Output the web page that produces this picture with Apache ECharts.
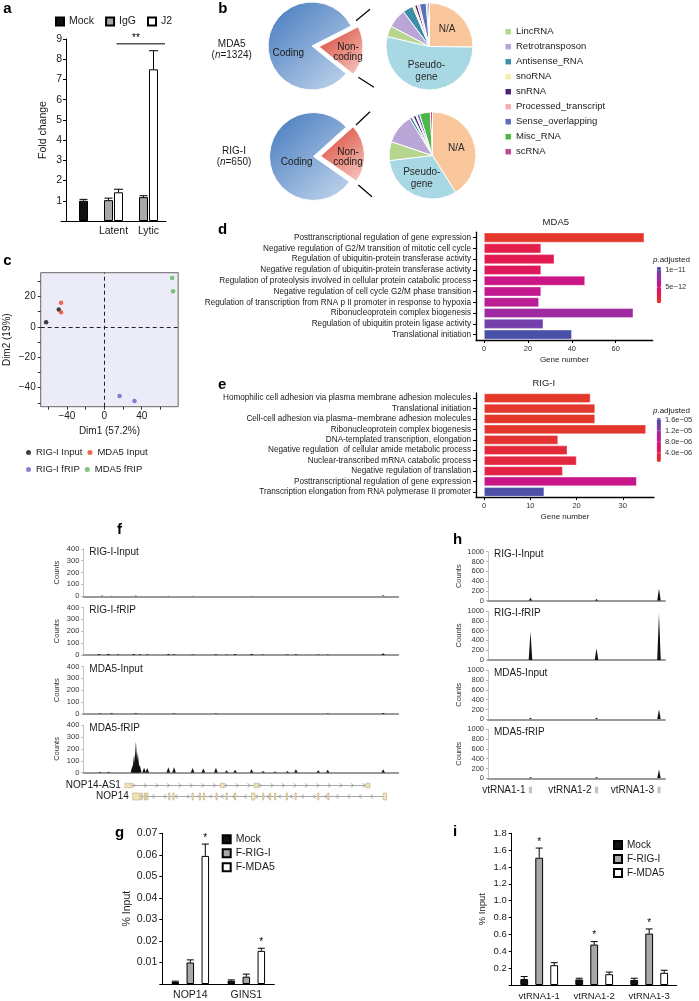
<!DOCTYPE html>
<html>
<head>
<meta charset="utf-8">
<title>RIG-I / MDA5 fRIP figure</title>
<script src="https://cdn.jsdelivr.net/npm/echarts@6.0.0/dist/echarts.min.js"></script>
<style>
  html, body { margin: 0; padding: 0; background: #fff; }
  #chart { width: 699px; height: 1001px; }
</style>
</head>
<body>
<div id="chart"></div>
<script>
// ---------- a: fold change ----------
const aGroups = ['', 'Latent', 'Lytic'];
const aMock = [1.0, '-', '-'];
const aMockErr = [0.07, 0, 0];
const aIgG = ['-', 1.03, 1.18];
const aIgGErr = [0, 0.1, 0.07];
const aJ2 = ['-', 1.42, 7.5];
const aJ2Err = [0, 0.15, 0.92];
const aSignif = [1, 2, 8.76];   // from group, to group, height

// ---------- b: RNA classes ----------
const codingNames = ['Non-coding', 'Coding'];
const mda5Coding = [18.3, 81.7];
const rigiCoding = [21.4, 78.6];
const rnaTypes = ['N/A', 'Pseudogene', 'LincRNA', 'Retrotransposon', 'Antisense_RNA', 'snoRNA',
  'snRNA', 'Processed_transcript', 'Sense_overlapping', 'Misc_RNA', 'scRNA'];
const mda5Types = [25, 53, 4, 7, 3.8, 0.8, 1, 0.8, 2.5, 0.6, 0.6];
const rigiTypes = [41, 32, 7, 11, 1, 0.5, 1, 0.5, 1, 4, 0.8];

// ---------- c: PCA ----------
const pcaRigInput = [[-62.2, 3], [-48.7, 11.3]];
const pcaMdaInput = [[-46.2, 15.7], [-46.2, 9.6]];
const pcaRigFrip = [[16.3, -45.4], [32.3, -48.7]];
const pcaMdaFrip = [[72.5, 32], [73.5, 23.3]];

// ---------- d / e: GO terms ----------
const dTerms = [
  'Posttranscriptional regulation of gene expression',
  'Negative regulation of G2/M transition of mitotic cell cycle',
  'Regulation of ubiquitin-protein transferase activity',
  'Negative regulation of ubiquitin-protein transferase activity',
  'Regulation of proteolysis involved in cellular protein catabolic process',
  'Negative regulation of cell cycle G2/M phase transition',
  'Regulation of transcription from RNA p II promoter in response to hypoxia',
  'Ribonucleoprotein complex biogenesis',
  'Regulation of ubiquitin protein ligase activity',
  'Translational initiation'
];
const dCounts = [73, 26, 32, 26, 46, 26, 25, 68, 27, 40];
const dPadj = [4e-13, 2.6e-12, 3.0e-12, 3.6e-12, 5.4e-12, 5.9e-12, 6.2e-12, 7.4e-12, 9.2e-12, 1.08e-11];
const dBarTicks = [1e-11, 5e-12];
const dBarLabels = ['1e\u221211', '5e\u221212'];

const eTerms = [
  'Homophilic cell adhesion via plasma membrane adhesion molecules',
  'Translational initiation',
  'Cell-cell adhesion via plasma\u2212membrane adhesion molecules',
  'Ribonucleoprotein complex biogenesis',
  'DNA-templated transcription, elongation',
  'Negative regulation  of cellular amide metabolic process',
  'Nuclear-transcribed mRNA catabolic process',
  'Negative regulation of translation',
  'Posttranscriptional regulation of gene expression',
  'Transcription elongation from RNA polymerase II promoter'
];
const eCounts = [23, 24, 24, 35, 16, 18, 20, 17, 33, 13];
const ePadj = [8e-7, 9e-7, 9e-7, 1.0e-6, 1.6e-6, 2.6e-6, 3.0e-6, 3.6e-6, 8.6e-6, 1.62e-5];
const eBarTicks = [1.6e-5, 1.2e-5, 8e-6, 4e-6];
const eBarLabels = ['1.6e\u221205', '1.2e\u221205', '8.0e\u221206', '4.0e\u221206'];

// ---------- f: NOP14 locus coverage (position 0-100 along locus, counts) ----------
const trackNames = ['RIG-I-Input', 'RIG-I-fRIP', 'MDA5-Input', 'MDA5-fRIP'];
const nopRigInput = [[6, 6], [9, 5], [16.7, 6], [27, 5], [34.7, 4], [53.4, 5], [95.2, 8]];
const nopRigFrip = [[5, 8], [8, 10], [11, 6], [16, 8], [18, 7], [20.3, 6], [27, 8], [28.8, 6], [34.7, 5],
  [42.1, 6], [45.5, 5], [48.2, 8], [53.4, 10], [57.1, 4], [64.8, 5], [67.5, 6], [74.6, 5], [77.6, 5], [95.2, 14]];
const nopMdaInput = [[5.3, 5], [9, 6], [16.7, 6], [28.8, 4], [42.1, 5], [77.6, 4], [95.2, 8]];
const nopMdaFrip = [[5.3, 8], [8, 9], [15.6, 60], [16.1, 150], [16.7, 265], [17.3, 170], [17.9, 70],
  [19.3, 42], [20.3, 40], [27, 45], [28.8, 45], [34.7, 40], [38.1, 35], [42.1, 42], [45.5, 20], [48.2, 25],
  [53.4, 30], [57.1, 14], [60.9, 10], [64.8, 14], [67.5, 30], [74.6, 20], [77.6, 25], [95.2, 30]];
const nopGenes = ['NOP14-AS1', 'NOP14'];
const nopGeneSpan = [[13.2, 91], [15.7, 96.3]];
const nopGeneStrand = [1, -1];
const nopExons = [
  [[13.2, 15.4], [43.6, 44.7], [54.2, 55.6], [89.7, 91]],
  [[15.7, 18], [18.3, 18.7], [19.4, 19.8], [20.1, 20.5], [27.1, 27.5], [28.4, 28.8], [34.5, 34.9], [36.8, 37.2],
   [38.1, 38.5], [42.1, 42.5], [45.3, 45.7], [48, 48.4], [53.4, 54.5], [56.9, 57.3], [59.1, 59.5], [60.7, 61.1],
   [64.4, 64.8], [67.2, 67.6], [74.4, 74.8], [77.6, 78], [95.2, 96.3]]
];

// ---------- h: vault RNA locus coverage ----------
const vtNames = ['vtRNA1-1', 'vtRNA1-2', 'vtRNA1-3'];
const vtPos = [24, 61.3, 96.6];
const vtRigInput = [60, 35, 250];
const vtRigFrip = [580, 240, 950];
const vtMdaInput = [30, 30, 200];
const vtMdaFrip = [25, 25, 180];

// ---------- g: % input ----------
const gGenes = ['NOP14', 'GINS1'];
const gMock = [0.001, 0.0015];
const gMockErr = [0.0003, 0.0004];
const gRig = [0.010, 0.0034];
const gRigErr = [0.0012, 0.0012];
const gMda = [0.0595, 0.0154];
const gMdaErr = [0.0055, 0.0012];
const gMdaStar = [1, 1];

// ---------- i: % input ----------
const iMock = [0.07, 0.065, 0.06];
const iMockErr = [0.03, 0.015, 0.02];
const iRig = [1.51, 0.48, 0.61];
const iRigErr = [0.115, 0.035, 0.055];
const iRigStar = [1, 1, 1];
const iMda = [0.235, 0.128, 0.145];
const iMdaErr = [0.03, 0.025, 0.03];

// =================================================================
const chart = echarts.init(document.getElementById('chart'), null, {renderer: 'canvas'});
const FONT = '"Liberation Sans", Arial, Helvetica, sans-serif';
const INK = '#1a1a1a';
const rnaColors = ['#f9c79b', '#a8d8e3', '#b6d58e', '#b9a6d7', '#3b8ea6', '#f2eea8',
  '#4a2470', '#f3b2b1', '#5a6fbd', '#4db848', '#c04a9b'];
const goRamp = ['#e3382a', '#e31a50', '#c8168a', '#8d34ad', '#4651a8'];

const grids = [], xAxes = [], yAxes = [], series = [], graphics = [];

function addPanel(grid, xa, ya) {
  grids.push(grid);
  const i = grids.length - 1;
  xAxes.push(Object.assign({gridIndex: i}, xa));
  yAxes.push(Object.assign({gridIndex: i}, ya));
  return i;
}
function txt(x, y, text, size, extra) {
  return {type: 'text', x, y, z: 100, silent: true,
    style: Object.assign({text, fontSize: size, fontFamily: FONT, fill: INK, align: 'left', verticalAlign: 'middle'}, extra || {})};
}
function seg(x1, y1, x2, y2, w, color) {
  return {type: 'line', z: 100, silent: true, shape: {x1, y1, x2, y2}, style: {stroke: color || '#000', lineWidth: w || 1}};
}
const blackLine = {show: true, onZero: false, lineStyle: {color: '#000', width: 1}};
const noSplit = {show: false};
const plain = v => String(v);

function errorBars(ax, means, errs, stars, offset, cap) {
  const data = [];
  means.forEach((m, i) => { if (m !== '-') data.push([i, m, errs[i], stars ? stars[i] : 0]); });
  return {
    type: 'custom', xAxisIndex: ax, yAxisIndex: ax, silent: true, z: 3, data,
    renderItem(params, api) {
      const base = api.coord([api.value(0), api.value(1)]);
      const top = api.coord([api.value(0), api.value(1) + api.value(2)]);
      const x = base[0] + offset;
      const kids = [
        {type: 'line', shape: {x1: x, y1: base[1], x2: x, y2: top[1]}, style: {stroke: '#000', lineWidth: 1}},
        {type: 'line', shape: {x1: x - cap, y1: top[1], x2: x + cap, y2: top[1]}, style: {stroke: '#000', lineWidth: 1}}
      ];
      if (api.value(3)) {
        kids.push({type: 'text', x, y: top[1] - 1,
          style: {text: '*', fontSize: 10, fontFamily: FONT, fill: '#000', align: 'center', verticalAlign: 'bottom'}});
      }
      return {type: 'group', children: kids};
    }
  };
}
function peakSeries(ax, peaks, halfW) {
  return {
    type: 'custom', xAxisIndex: ax, yAxisIndex: ax, silent: true, clip: true, data: peaks,
    renderItem(params, api) {
      const x = api.value(0), h = api.value(1);
      const l = api.coord([x - halfW, 0]), t = api.coord([x, h]), r = api.coord([x + halfW, 0]);
      return {type: 'polygon', shape: {points: [l, t, r]}, style: {fill: '#111'}};
    }
  };
}

// ---------------- panel a ----------------
const pA = addPanel({left: 61, top: 39, width: 105, height: 182},
  {type: 'category', data: aGroups, axisLine: blackLine, axisTick: {show: false},
   axisLabel: {fontSize: 10.5, color: INK, margin: 5, interval: 0}},
  {type: 'value', min: 0, max: 9, interval: 1, offset: -5, axisLine: blackLine,
   axisTick: {show: true, length: 3, lineStyle: {color: '#000'}}, splitLine: noSplit,
   axisLabel: {fontSize: 10.5, color: INK, margin: 4, formatter: v => (v === 0 ? '' : v)},
   name: 'Fold change', nameLocation: 'middle', nameGap: 17, nameTextStyle: {fontSize: 10.5, color: INK}});
const barA = {type: 'bar', xAxisIndex: pA, yAxisIndex: pA, barWidth: 9, barGap: '11%', silent: true};
series.push(Object.assign({name: 'IgG', stack: 'aL', data: aIgG,
  itemStyle: {color: '#a8a8a8', borderColor: '#000', borderWidth: 1}}, barA));
series.push(Object.assign({name: 'Mock', stack: 'aR', data: aMock,
  itemStyle: {color: '#111', borderColor: '#000', borderWidth: 1}}, barA));
series.push(Object.assign({name: 'J2', stack: 'aR', data: aJ2,
  itemStyle: {color: '#fff', borderColor: '#000', borderWidth: 1}}, barA));
series.push(errorBars(pA, aIgG, aIgGErr, null, -5, 4));
series.push(errorBars(pA, aMock, aMockErr, null, 5, 4));
series.push(errorBars(pA, aJ2, aJ2Err, null, 5, 4.5));
series.push({type: 'custom', xAxisIndex: pA, yAxisIndex: pA, silent: true, data: [aSignif],
  renderItem(params, api) {
    const a = api.coord([api.value(0), api.value(2)]);
    const b = api.coord([api.value(1), api.value(2)]);
    return {type: 'group', children: [
      {type: 'line', shape: {x1: a[0] + 3, y1: a[1], x2: b[0] + 16.5, y2: a[1]}, style: {stroke: '#000', lineWidth: 1}},
      {type: 'text', x: (a[0] + b[0]) / 2 + 5, y: a[1] - 1,
       style: {text: '**', fontSize: 10, fontFamily: FONT, fill: '#000', align: 'center', verticalAlign: 'bottom'}}
    ]};
  }});

// ---------------- panel b ----------------
function bigPie(center, values, startAngle) {
  return {
    type: 'pie', center, radius: [0, 44], startAngle, silent: true, selectedMode: 'single', selectedOffset: 7,
    avoidLabelOverlap: false, label: {show: false}, labelLine: {show: false}, emphasis: {disabled: true},
    select: {itemStyle: {borderColor: '#fff', borderWidth: 1}},
    data: [
      {name: codingNames[0], value: values[0], selected: true,
       itemStyle: {borderColor: '#fff', borderWidth: 1, color: new echarts.graphic.LinearGradient(0, 0, 1, 1,
         [{offset: 0, color: '#d6402f'}, {offset: 1, color: '#f8cdc6'}])}},
      {name: codingNames[1], value: values[1],
       itemStyle: {borderColor: '#fff', borderWidth: 1, color: new echarts.graphic.LinearGradient(0, 0, 1, 1,
         [{offset: 0, color: '#4278bd'}, {offset: 1, color: '#c6d8ee'}])}}
    ]
  };
}
function typePie(center, values) {
  return {
    type: 'pie', center, radius: [0, 43.5], startAngle: 90, silent: true, avoidLabelOverlap: false,
    emphasis: {disabled: true}, labelLine: {show: false},
    label: {show: true, position: 'inside', fontSize: 10, fontFamily: FONT, color: '#2a2a2a', lineHeight: 12,
      formatter: p => (p.name === 'N/A' ? 'N/A' : p.name === 'Pseudogene' ? 'Pseudo-\ngene' : '')},
    data: rnaTypes.map((n, i) => ({name: n, value: values[i],
      itemStyle: {color: rnaColors[i], borderColor: '#fff', borderWidth: 1}}))
  };
}
series.push(bigPie([312, 46], mda5Coding, 27));
series.push(bigPie([313.5, 156.5], rigiCoding, 42));
series.push(typePie([429.5, 46.5], mda5Types));
series.push(typePie([432.5, 155.5], rigiTypes));

graphics.push(txt(231.7, 50, 'MDA5\n({i|n}=1324)', 10, {align: 'center', lineHeight: 11,
  rich: {i: {fontStyle: 'italic', fontSize: 10, fontFamily: FONT}}}));
graphics.push(txt(234, 157, 'RIG-I\n({i|n}=650)', 10, {align: 'center', lineHeight: 11,
  rich: {i: {fontStyle: 'italic', fontSize: 10, fontFamily: FONT}}}));
graphics.push(txt(288.3, 53.3, 'Coding', 10, {align: 'center'}));
graphics.push(txt(348, 52, 'Non-\ncoding', 10, {align: 'center', lineHeight: 10.5}));
graphics.push(txt(296.7, 162.3, 'Coding', 10, {align: 'center'}));
graphics.push(txt(348, 157, 'Non-\ncoding', 10, {align: 'center', lineHeight: 10.5}));
graphics.push(seg(356, 20.7, 370, 9.3, 1.2), seg(358.3, 77.3, 374, 87.3, 1.2));
graphics.push(seg(356, 125, 370, 111.7, 1.2), seg(358.3, 185, 372, 196.7, 1.2));

// ---------------- panel c ----------------
const minus = v => String(v).replace('-', '\u2212');
const pC = addPanel({left: 40.7, top: 272.7, width: 137.5, height: 134, show: true,
    backgroundColor: '#ececf8', borderColor: '#444', borderWidth: 0.8},
  {type: 'value', min: -68, max: 79, axisLine: {show: false, onZero: false}, splitLine: noSplit,
   axisTick: {show: true, length: 3, customValues: [-60, -40, -20, 0, 20, 40, 60], lineStyle: {color: '#333'}},
   axisLabel: {customValues: [-40, 0, 40], fontSize: 10, color: INK, margin: 5, formatter: minus},
   name: 'Dim1 (57.2%)', nameLocation: 'middle', nameGap: 20, nameTextStyle: {fontSize: 10, color: INK}},
  {type: 'value', min: -52.5, max: 35.5, axisLine: {show: false, onZero: false}, splitLine: noSplit,
   axisTick: {show: true, length: 3, customValues: [-50, -40, -30, -20, -10, 0, 10, 20, 30], lineStyle: {color: '#333'}},
   axisLabel: {customValues: [-40, -20, 0, 20], fontSize: 10, color: INK, margin: 5, formatter: minus},
   name: 'Dim2 (19%)', nameLocation: 'middle', nameGap: 28, nameTextStyle: {fontSize: 10, color: INK}});
const dotC = {type: 'scatter', xAxisIndex: pC, yAxisIndex: pC, symbolSize: 4.5, silent: true, z: 4};
series.push(Object.assign({name: 'RIG-I Input', data: pcaRigInput, itemStyle: {color: '#111'},
  markLine: {silent: true, symbol: 'none', label: {show: false}, animation: false,
    lineStyle: {type: [4, 3], color: '#222', width: 1}, data: [{xAxis: 0}, {yAxis: 0}]}}, dotC));
series.push(Object.assign({name: 'MDA5 Input', data: pcaMdaInput, itemStyle: {color: '#e8432b'}}, dotC));
series.push(Object.assign({name: 'RIG-I fRIP', data: pcaRigFrip, itemStyle: {color: '#6a5fc8'}}, dotC));
series.push(Object.assign({name: 'MDA5 fRIP', data: pcaMdaFrip, itemStyle: {color: '#5cb85a'}}, dotC));

// ---------------- panels d / e ----------------
function goPanel(top, height, width, terms, counts, padj, xMin, xMax, ticks, title, titleX) {
  const p = addPanel({left: 476, top, width, height},
    {type: 'value', min: xMin, max: xMax, splitLine: noSplit,
     axisLine: {show: true, onZero: false, lineStyle: {color: '#000', width: 1.3}},
     axisTick: {show: true, length: 3, customValues: ticks, lineStyle: {color: '#000'}},
     axisLabel: {customValues: ticks, fontSize: 7.5, color: '#333', margin: 5},
     name: 'Gene number', nameLocation: 'middle', nameGap: 16, nameTextStyle: {fontSize: 8, color: INK}},
    {type: 'category', data: terms, inverse: true,
     axisLine: {show: true, onZero: false, lineStyle: {color: '#000', width: 1.3}},
     axisTick: {show: true, length: 3, alignWithLabel: true, lineStyle: {color: '#000'}},
     axisLabel: {fontSize: 8.2, color: INK, margin: 5, interval: 0}});
  series.push({type: 'bar', xAxisIndex: p, yAxisIndex: p, silent: true, barCategoryGap: '10%',
    encode: {x: 0, y: 1},
    itemStyle: {borderColor: 'rgba(255,255,255,0.6)', borderWidth: 0.6},
    data: counts.map((c, i) => [c, i, padj[i]])});
  graphics.push(txt(titleX, top - 10, title, 9.5, {align: 'center'}));
  return series.length - 1;
}
const dSeries = goPanel(232.2, 107.8, 176.7, dTerms, dCounts, dPadj, -3.66, 76.85, [0, 20, 40, 60], 'MDA5', 555.8);
const eSeries = goPanel(392.9, 104.2, 178, eTerms, eCounts, ePadj, -1.75, 36.75, [0, 10, 20, 30], 'RIG-I', 543.8);

const dBar = {min: 3.5e-13, max: 1.09e-11, left: 656.7, top: 266.7, w: 4.5, h: 36.6};
const eBar = {min: 7.8e-7, max: 1.654e-5, left: 656.7, top: 418, w: 4.2, h: 44};
function colorBar(b, seriesIndex, ticks, labels) {
  labels.forEach((lab, i) => {
    const y = b.top + b.h - (ticks[i] - b.min) / (b.max - b.min) * b.h;
    graphics.push(seg(b.left, y, b.left + 1.2, y, 0.6, '#fff'), seg(b.left + b.w - 1.2, y, b.left + b.w, y, 0.6, '#fff'));
    graphics.push(txt(b.left + b.w + 4, y, lab, 7.5, {fill: '#333'}));
  });
  graphics.push(txt(653, b.top - 7, '{i|p}.adjusted', 8, {rich: {i: {fontStyle: 'italic', fontSize: 8, fontFamily: FONT}}}));
  return {type: 'continuous', seriesIndex, dimension: 2, min: b.min, max: b.max, left: b.left, top: b.top,
    itemWidth: b.w, itemHeight: b.h, padding: 0, calculable: false, hoverLink: false, text: null,
    inRange: {color: goRamp}};
}
const visualMaps = [colorBar(dBar, dSeries, dBarTicks, dBarLabels), colorBar(eBar, eSeries, eBarTicks, eBarLabels)];

// ---------------- panel f: coverage tracks ----------------
const nopTracks = [nopRigInput, nopRigFrip, nopMdaInput, nopMdaFrip];
const fTops = [548.8, 607.5, 666.5, 725.2];
function trackPanel(left, width, top, height, yMax, yStep) {
  return addPanel({left, top, width, height},
    {type: 'value', min: 0, max: 100, splitLine: noSplit, axisTick: {show: false}, axisLabel: {show: false},
     axisLine: {show: true, onZero: false, lineStyle: {color: '#9a9a9a', width: 1.8}}},
    {type: 'value', min: 0, max: yMax, interval: yStep, splitLine: noSplit,
     axisLine: {show: true, onZero: false, lineStyle: {color: '#b5b5b5', width: 0.8}},
     axisTick: {show: true, length: 2, lineStyle: {color: '#b5b5b5'}},
     axisLabel: {fontSize: 7.5, color: '#333', margin: 4, formatter: plain},
     name: 'Counts', nameLocation: 'middle', nameGap: 22, nameTextStyle: {fontSize: 7.5, color: '#333'}});
}
nopTracks.forEach((tr, k) => {
  const p = trackPanel(83.3, 315, fTops[k], 47.5, 400, 100);
  series.push(peakSeries(p, tr, 0.6));
  graphics.push(txt(89.3, fTops[k] + 3, trackNames[k], 10));
});
const pFG = addPanel({left: 83.3, top: 780, width: 315, height: 22},
  {type: 'value', min: 0, max: 100, show: false},
  {type: 'category', data: nopGenes, inverse: true, show: false});
series.push({type: 'custom', xAxisIndex: pFG, yAxisIndex: pFG, silent: true,
  data: nopGenes.map((g, i) => [nopGeneSpan[i][0], i, nopGeneSpan[i][1], nopGeneStrand[i]]),
  renderItem(params, api) {
    const a = api.coord([api.value(0), api.value(1)]);
    const b = api.coord([api.value(2), api.value(1)]);
    const dir = api.value(3);
    const kids = [{type: 'line', shape: {x1: a[0], y1: a[1], x2: b[0], y2: b[1]}, style: {stroke: '#a8a8a8', lineWidth: 1}}];
    for (let x = a[0] + 9; x < b[0] - 5; x += 11.5) {
      kids.push({type: 'polyline', shape: {points: [[x - 1.4 * dir, a[1] - 2], [x + 1.4 * dir, a[1]], [x - 1.4 * dir, a[1] + 2]]},
        style: {stroke: '#9a9a9a', lineWidth: 0.8, fill: null}});
    }
    kids.push({type: 'text', x: a[0] - 4, y: a[1],
      style: {text: nopGenes[params.dataIndex], fontSize: 10, fontFamily: FONT, fill: INK, align: 'right', verticalAlign: 'middle'}});
    return {type: 'group', children: kids};
  }});
nopExons.forEach((exons, gi) => {
  series.push({type: 'custom', xAxisIndex: pFG, yAxisIndex: pFG, silent: true, z: 4,
    data: exons.map(e => [e[0], gi, e[1]]),
    renderItem(params, api) {
      const a = api.coord([api.value(0), api.value(1)]);
      const b = api.coord([api.value(2), api.value(1)]);
      const hh = gi === 0 ? 2.3 : 3.5;
      return {type: 'rect', shape: {x: a[0], y: a[1] - hh, width: Math.max(b[0] - a[0], 1.3), height: hh * 2},
        style: {fill: '#efe2bb', stroke: '#bfae7e', lineWidth: 0.6}};
    }});
});

// ---------------- panel h: vault RNA tracks ----------------
const vtTracks = [vtRigInput, vtRigFrip, vtMdaInput, vtMdaFrip];
const hTops = [551.7, 611, 670.3, 729.3];
vtTracks.forEach((tr, k) => {
  const p = trackPanel(488, 177, hTops[k], 49, 1000, 200);
  series.push(peakSeries(p, tr.map((v, i) => [vtPos[i], v]), 1));
  graphics.push(txt(494, hTops[k] + 2.5, trackNames[k], 10));
});
const pHG = addPanel({left: 488, top: 784, width: 177, height: 12},
  {type: 'value', min: 0, max: 100, show: false},
  {type: 'category', data: ['vtRNA'], show: false});
series.push({type: 'custom', xAxisIndex: pHG, yAxisIndex: pHG, silent: true,
  data: vtPos.map(x => [x, 0]),
  renderItem(params, api) {
    const c = api.coord([api.value(0), api.value(1)]);
    return {type: 'group', children: [
      {type: 'rect', shape: {x: c[0] - 1.6, y: c[1] - 3.3, width: 3.2, height: 6.6}, style: {fill: '#c4c4c4'}},
      {type: 'text', x: c[0] - 5, y: c[1],
       style: {text: vtNames[params.dataIndex], fontSize: 10, fontFamily: FONT, fill: INK, align: 'right', verticalAlign: 'middle'}}
    ]};
  }});

// ---------------- panel g ----------------
function pctPanel(left, width, top, height, cats, yMax, step, digits, tickFont, catFont, nameGap) {
  return addPanel({left, top, width, height},
    {type: 'category', data: cats, axisLine: blackLine, axisTick: {show: false},
     axisLabel: {fontSize: catFont, color: INK, margin: 6, interval: 0}},
    {type: 'value', min: 0, max: yMax, interval: step, splitLine: noSplit, axisLine: blackLine,
     axisTick: {show: true, length: 3, lineStyle: {color: '#000'}},
     axisLabel: {fontSize: tickFont, color: INK, margin: 5, formatter: v => (v === 0 ? '' : v.toFixed(digits))},
     name: '% Input', nameLocation: 'middle', nameGap, nameTextStyle: {fontSize: tickFont, color: INK}});
}
function tripleBars(p, bw, gap, mock, rig, mda) {
  const b = {type: 'bar', xAxisIndex: p, yAxisIndex: p, barWidth: bw, barGap: gap, silent: true};
  series.push(Object.assign({name: 'Mock', data: mock, itemStyle: {color: '#111', borderColor: '#000', borderWidth: 1}}, b));
  series.push(Object.assign({name: 'F-RIG-I', data: rig, itemStyle: {color: '#a8a8a8', borderColor: '#000', borderWidth: 1}}, b));
  series.push(Object.assign({name: 'F-MDA5', data: mda, itemStyle: {color: '#fff', borderColor: '#000', borderWidth: 1}}, b));
}
const pG = pctPanel(162.3, 112, 833.3, 151.7, gGenes, 0.07, 0.01, 2, 10.5, 10.5, 30);
tripleBars(pG, 7.5, '100%', gMock, gRig, gMda);
series.push(errorBars(pG, gMock, gMockErr, null, -15, 3.5));
series.push(errorBars(pG, gRig, gRigErr, null, 0, 3.5));
series.push(errorBars(pG, gMda, gMdaErr, gMdaStar, 15, 3.5));

const pI = pctPanel(511.7, 165, 833.3, 153.4, vtNames, 1.8, 0.2, 1, 9.5, 9.5, 24);
tripleBars(pI, 7.8, '92%', iMock, iRig, iMda);
series.push(errorBars(pI, iMock, iMockErr, null, -15, 3.5));
series.push(errorBars(pI, iRig, iRigErr, iRigStar, 0, 3.5));
series.push(errorBars(pI, iMda, iMdaErr, null, 15, 3.5));

// ---------------- panel letters ----------------
[['a', 3.3, 9], ['b', 218.3, 9], ['c', 3.3, 261], ['d', 218, 230], ['e', 218, 385],
 ['f', 117, 530], ['h', 453, 540], ['g', 115, 833], ['i', 453, 832]].forEach(l => {
  graphics.push(txt(l[1], l[2], l[0], 15, {fontWeight: 'bold', fill: '#000'}));
});

// ---------------- legends ----------------
const legBase = {padding: 0, selectedMode: false, icon: 'rect', textStyle: {fontFamily: FONT, color: INK}};
const legends = [
  Object.assign({}, legBase, {data: ['Mock', 'IgG', 'J2'], left: 55, top: 16, itemWidth: 8, itemHeight: 8, itemGap: 11,
    textStyle: {fontFamily: FONT, color: INK, fontSize: 10.5}}),
  Object.assign({}, legBase, {data: rnaTypes.slice(2), orient: 'vertical', left: 505.5, top: 26.2,
    itemWidth: 5.5, itemHeight: 5.5, itemGap: 4, itemStyle: {borderWidth: 0},
    textStyle: {fontFamily: FONT, color: INK, fontSize: 9.5, lineHeight: 11}}),
  Object.assign({}, legBase, {data: ['RIG-I Input', 'MDA5 Input'], left: 26, top: 447.5, icon: 'circle',
    itemWidth: 5, itemHeight: 5, itemGap: 5, textStyle: {fontFamily: FONT, color: INK, fontSize: 9.5, width: 80}}),
  Object.assign({}, legBase, {data: ['RIG-I fRIP', 'MDA5 fRIP'], left: 26, top: 464.5, icon: 'circle',
    itemWidth: 5, itemHeight: 5, itemGap: 5, textStyle: {fontFamily: FONT, color: INK, fontSize: 9.5, width: 80}}),
  Object.assign({}, legBase, {data: ['Mock', 'F-RIG-I', 'F-MDA5'], orient: 'vertical', left: 221.7, top: 833.3,
    itemWidth: 8, itemHeight: 8, itemGap: 2, textStyle: {fontFamily: FONT, color: INK, fontSize: 10.5, lineHeight: 12}}),
  Object.assign({}, legBase, {data: ['Mock', 'F-RIG-I', 'F-MDA5'], orient: 'vertical', left: 613, top: 839,
    itemWidth: 8, itemHeight: 8, itemGap: 2, textStyle: {fontFamily: FONT, color: INK, fontSize: 10, lineHeight: 12}})
];

chart.setOption({
  animation: false,
  backgroundColor: '#fff',
  textStyle: {fontFamily: FONT},
  grid: grids,
  xAxis: xAxes,
  yAxis: yAxes,
  visualMap: visualMaps,
  legend: legends,
  series,
  graphic: {elements: graphics}
});
window.addEventListener('resize', () => chart.resize());
</script>
</body>
</html>
